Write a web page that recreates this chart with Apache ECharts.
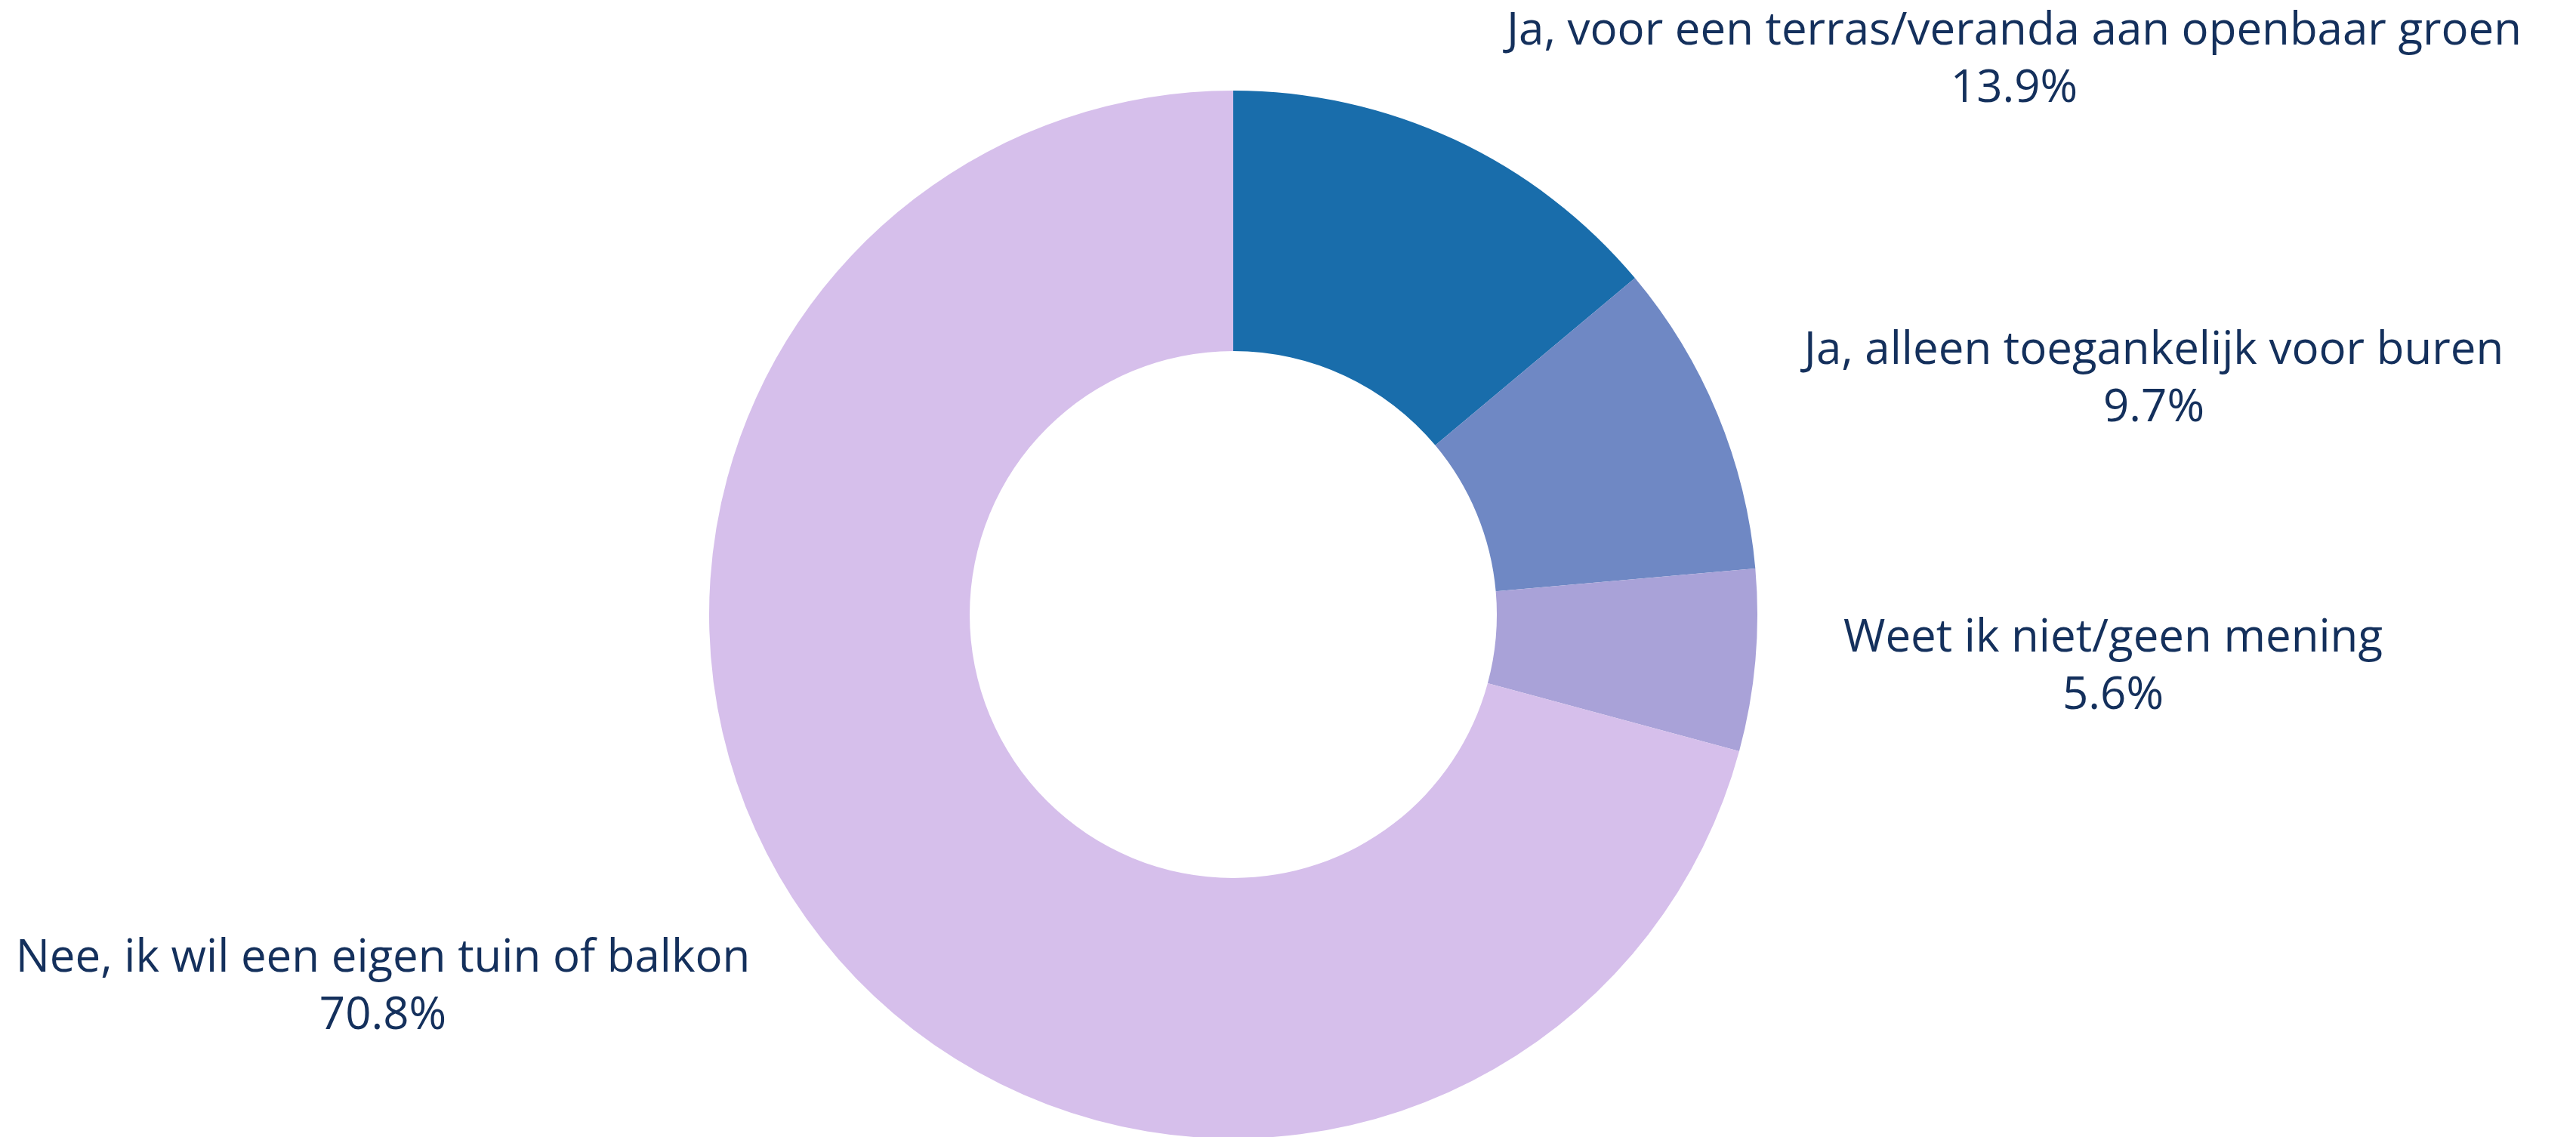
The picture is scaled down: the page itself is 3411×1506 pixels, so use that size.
<!DOCTYPE html>
<html>
<head>
<meta charset="utf-8">
<style>html,body{margin:0;padding:0;background:#fff;}#c{width:3411px;height:1506px;}</style>
<script src="https://cdn.jsdelivr.net/npm/echarts@6/dist/echarts.min.js"></script>
</head>
<body>
<div id="c"></div>
<script>
const categories = [
  'Ja, voor een terras/veranda aan openbaar groen',
  'Ja, alleen toegankelijk voor buren',
  'Weet ik niet/geen mening',
  'Nee, ik wil een eigen tuin of balkon'
];
const values = [13.9, 9.7, 5.6, 70.8];
const colors = ['#196dab', '#6f88c4', '#a9a2d8', '#d6bfeb'];
// label anchor positions (layout only)
const labelPos = [[2667, 80], [2852, 503], [2798, 884], [507, 1308]];

const chart = echarts.init(document.getElementById('c'), null, {renderer: 'canvas'});
chart.setOption({
  animation: false,
  backgroundColor: '#ffffff',
  series: [{
    type: 'pie',
    center: [1633, 814],
    radius: [349, 694],
    startAngle: 90,
    clockwise: true,
    avoidLabelOverlap: false,
    data: categories.map((c, i) => ({name: c, value: values[i], itemStyle: {color: colors[i]}})),
    label: {
      show: true,
      position: 'outside',
      formatter: p => p.name + '\n' + p.value.toFixed(1) + '%',
      color: '#14305c',
      fontFamily: 'Open Sans',
      fontSize: 60,
      lineHeight: 76,
      align: 'center'
    },
    labelLine: {show: false},
    labelLayout: p => ({x: labelPos[p.dataIndex][0], y: labelPos[p.dataIndex][1], align: 'center', verticalAlign: 'middle'})
  }]
});
</script>
</body>
</html>
